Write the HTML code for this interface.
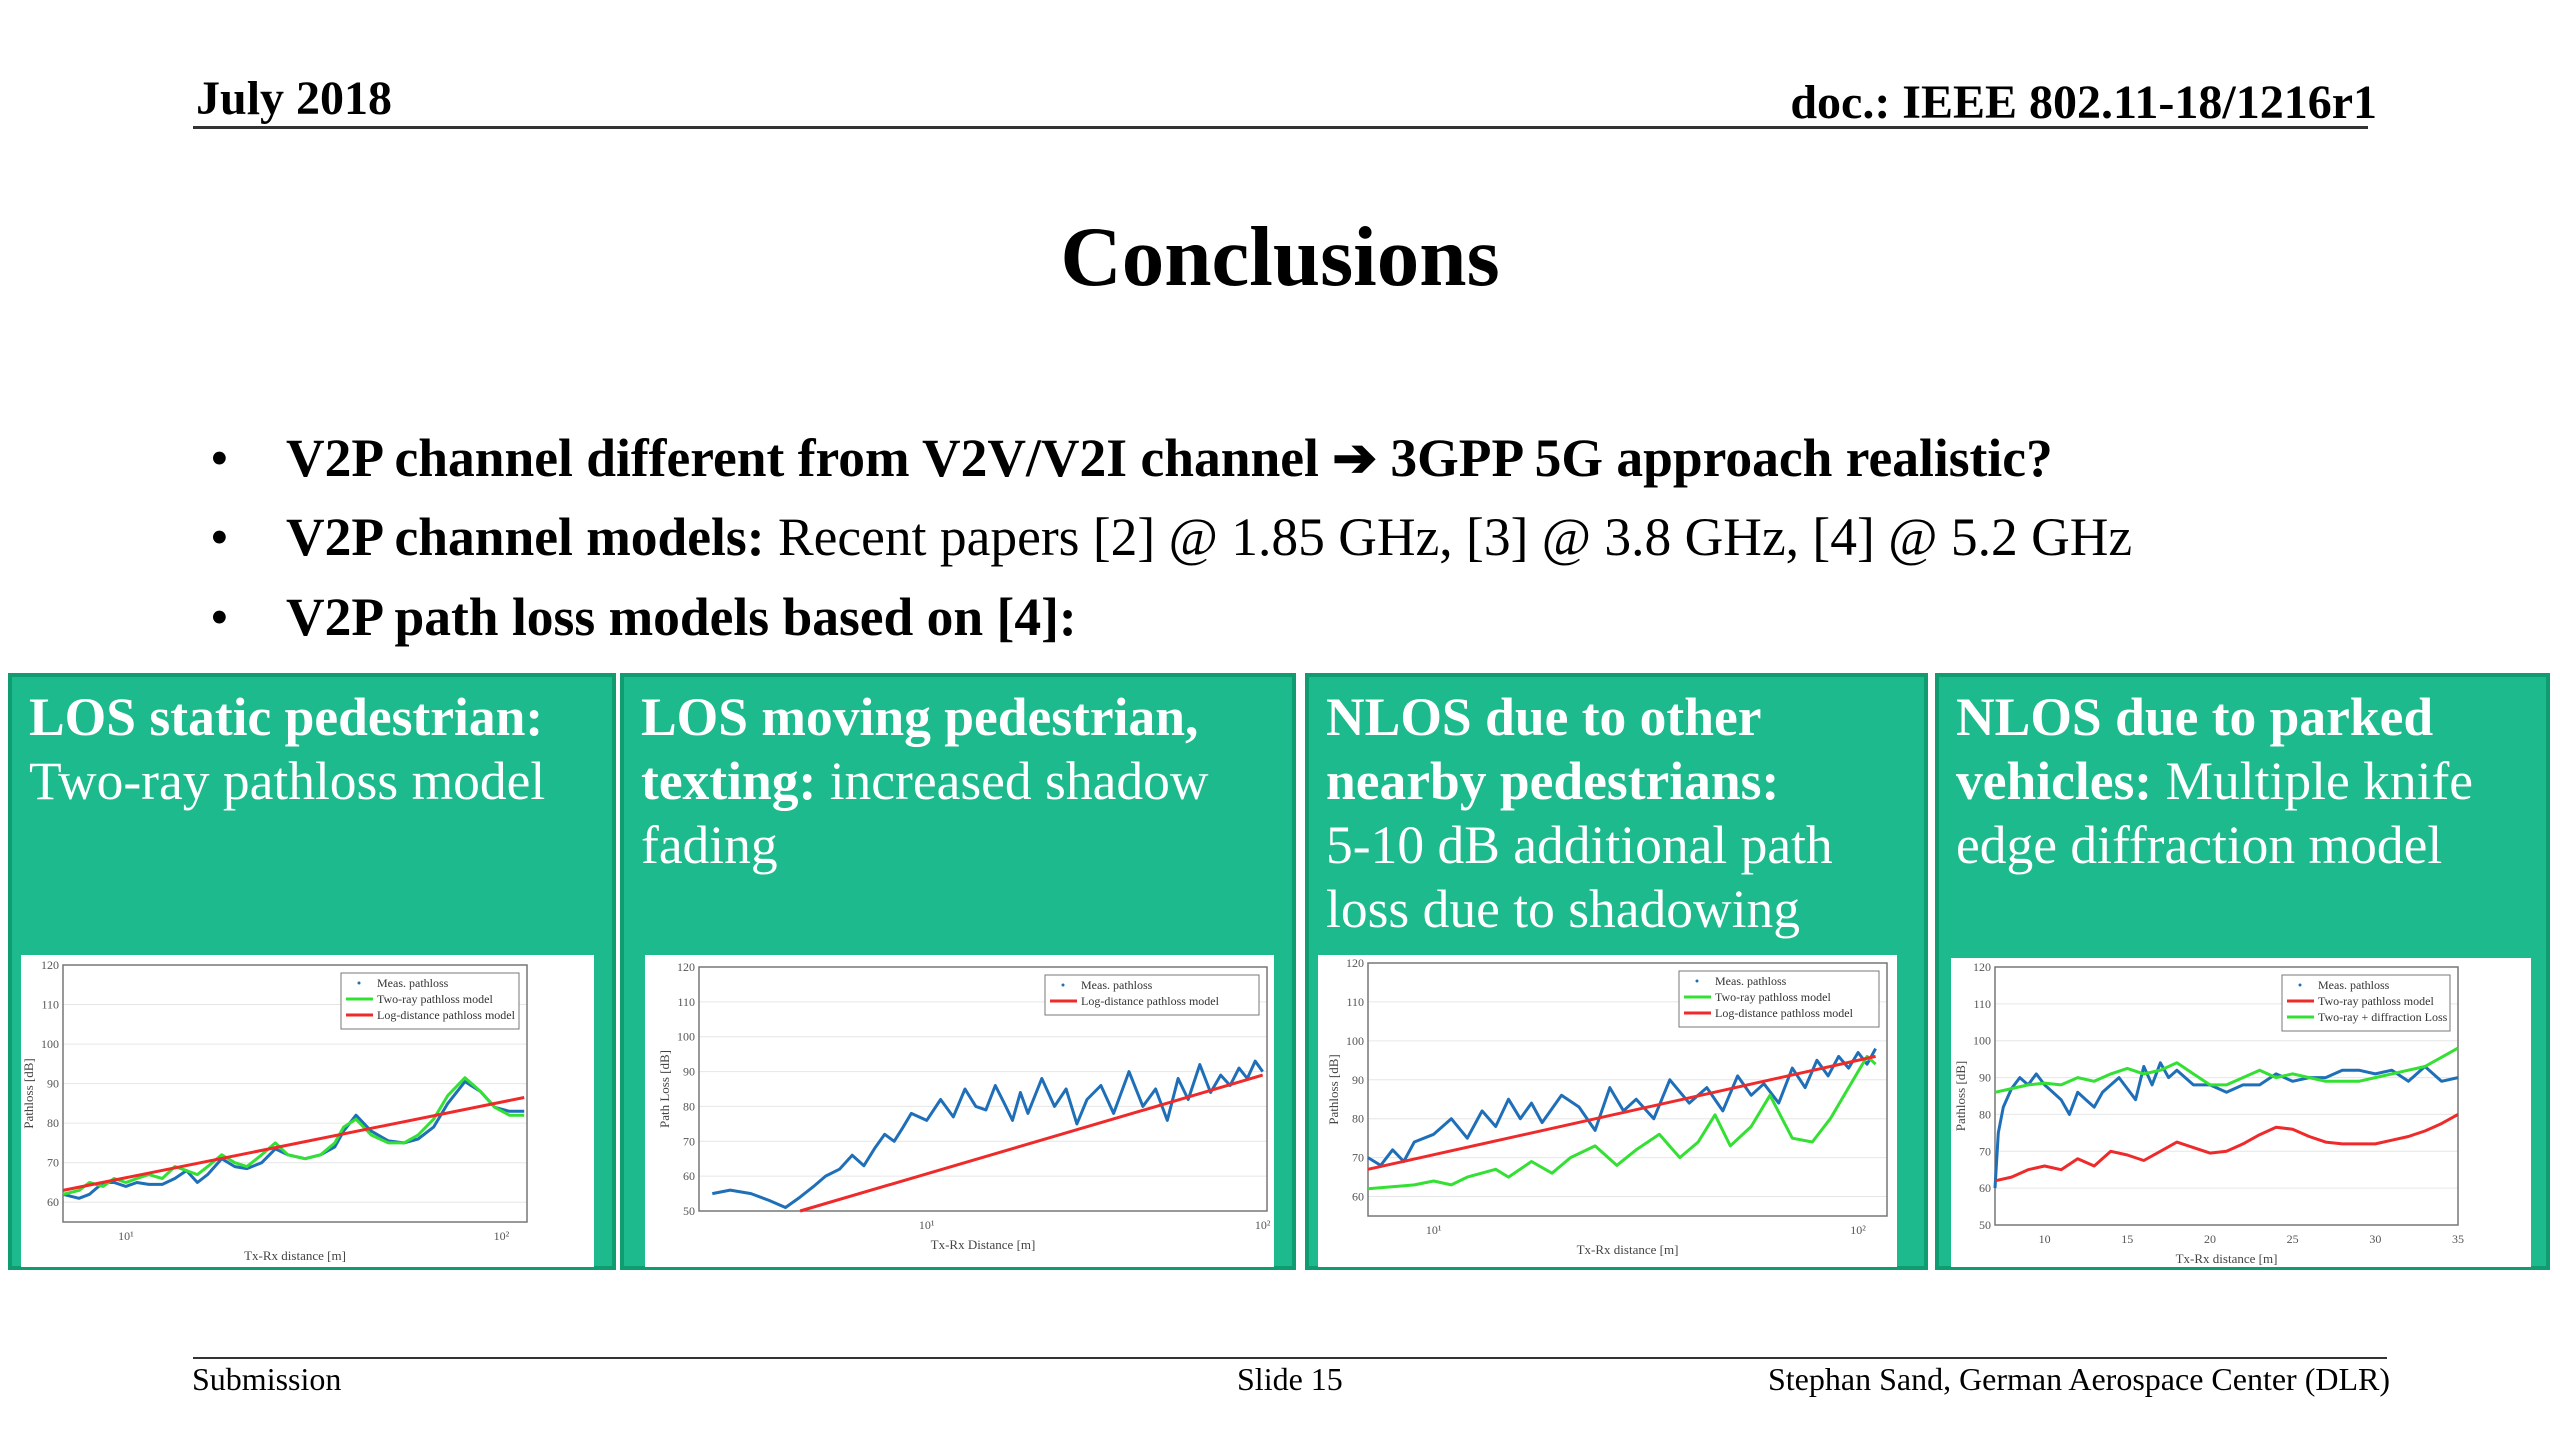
<!DOCTYPE html>
<html><head><meta charset="utf-8">
<style>
body{margin:0;width:2560px;height:1440px;position:relative;background:#fff;font-family:"Liberation Serif",serif;overflow:hidden}
.a{position:absolute;white-space:nowrap}
.box{position:absolute;top:673px;height:597px;background:#1cba8c;border:4px solid #0f9c70;box-sizing:border-box;color:#fff;font-size:53.5px;line-height:64px;padding:8px 0 0 17px;white-space:nowrap}
.wh{position:absolute;background:#fff}
</style></head><body>
<div class="a" style="left:196px;top:71px;font-size:48px;font-weight:bold">July 2018</div>
<div class="a" style="right:183px;top:75px;font-size:48px;font-weight:bold">doc.: IEEE 802.11-18/1216r1</div>
<div class="a" style="left:193px;top:126px;width:2175px;height:3px;background:#333"></div>
<div class="a" style="left:0;width:2560px;text-align:center;top:208px;font-size:85px;font-weight:bold">Conclusions</div>
<div class="a" style="left:210px;top:426px;font-size:53.5px"><span style="display:inline-block;width:76px">•</span><b>V2P channel different from V2V/V2I channel ➔ 3GPP 5G approach realistic?</b></div>
<div class="a" style="left:210px;top:506px;font-size:53.5px"><span style="display:inline-block;width:76px">•</span><b>V2P channel models:</b> Recent papers [2] @ 1.85 GHz, [3] @ 3.8 GHz, [4] @ 5.2 GHz</div>
<div class="a" style="left:210px;top:586px;font-size:53.5px"><span style="display:inline-block;width:76px">•</span><b>V2P path loss models based on [4]:</b></div>

<div class="box" style="left:8px;width:608px"><b>LOS static pedestrian:</b><br>Two-ray pathloss model</div>
<div class="box" style="left:620px;width:676px"><b>LOS moving pedestrian,</b><br><b>texting:</b> increased shadow<br>fading</div>
<div class="box" style="left:1305px;width:623px"><b>NLOS due to other</b><br><b>nearby pedestrians:</b><br>5-10 dB additional path<br>loss due to shadowing</div>
<div class="box" style="left:1935px;width:615px"><b>NLOS due to parked</b><br><b>vehicles:</b> Multiple knife<br>edge diffraction model</div>

<div class="wh" style="left:21px;top:955px;width:573px;height:312px"></div>
<div class="wh" style="left:645px;top:955px;width:629px;height:312px"></div>
<div class="wh" style="left:1318px;top:955px;width:579px;height:312px"></div>
<div class="wh" style="left:1951px;top:958px;width:580px;height:309px"></div>

<svg id="charts" width="2560" height="1440" style="position:absolute;left:0;top:0" font-family="Liberation Serif, serif"></svg>

<div class="a" style="left:193px;top:1357px;width:2194px;height:2px;background:#333"></div>
<div class="a" style="left:192px;top:1361px;font-size:32px">Submission</div>
<div class="a" style="left:1237px;top:1361px;font-size:32px">Slide 15</div>
<div class="a" style="right:170px;top:1361px;font-size:32px">Stephan Sand, German Aerospace Center (DLR)</div>

<script>
// Chart 1
const x1 = [6.8,7.5,8,8.7,9.3,10,10.7,11.5,12.5,13.5,14.5,15.5,16.5,18,19.5,21,23,25,27,30,33,36,38,41,45,50,55,60,66,72,80,88,96,105,115];
const green1 = [62,63,65,64,66,65,66,67,66,69,68,67,69,72,70,69,72,75,72,71,72,75,79,81,77,75,75,77,81,87,91.5,88,84,82,82];
const blue1 = [62,61,62,65,65,64,65,64.5,64.5,66,68,65,67,71,69,68.5,70,73.5,72,71,72,74,78,82,78,75.5,75,76,79,85,90.5,88,84,83,83];
const xr1 = [6.8,115];
const red1 = [63,86.5];
// Chart 2
const x2 = [2.3,2.6,3,3.4,3.8,4.2,4.6,5,5.5,6,6.5,7,7.5,8,8.5,9,10,11,12,13,14,15,16,17,18,19,20,22,24,26,28,30,33,36,40,44,48,52,56,60,65,70,75,80,85,90,95,100];
const blue2 = [55,56,55,53,51,54,57,60,62,66,63,68,72,70,74,78,76,82,77,85,80,79,86,81,76,84,78,88,80,85,75,82,86,78,90,80,85,76,88,82,92,84,89,86,91,88,93,90];
const xr2 = [4.2,100];
const red2 = [50,89];
// Chart 3
const x3 = [7,7.5,8,8.5,9,10,11,12,13,14,15,16,17,18,20,22,24,26,28,30,33,36,40,44,48,52,56,60,65,70,75,80,85,90,95,100,105,110];
const blue3 = [70,68,72,69,74,76,80,75,82,78,85,80,84,79,86,83,77,88,82,85,80,90,84,88,82,91,86,89,84,93,88,95,91,96,93,97,94,98];
const xr3 = [7,110];
const red3 = [67,96];
const xg3 = [7,9,10,11,12,14,15,17,19,21,24,27,30,34,38,42,46,50,56,62,70,78,86,95,105,110];
const green3 = [62,63,64,63,65,67,65,69,66,70,73,68,72,76,70,74,81,73,78,86,75,74,80,88,96,94];
// Chart 4
const x4 = [7,7.2,7.5,8,8.5,9,9.5,10,10.5,11,11.5,12,12.5,13,13.5,14,14.5,15,15.5,16,16.5,17,17.5,18,19,20,21,22,23,24,25,26,27,28,29,30,31,32,33,34,35];
const blue4 = [60,75,82,87,90,88,91,88,86,84,80,86,84,82,86,88,90,87,84,93,88,94,90,92,88,88,86,88,88,91,89,90,90,92,92,91,92,89,93,89,90];
const x4m = [7,8,9,10,11,12,13,14,15,16,17,18,19,20,21,22,23,24,25,26,27,28,29,30,31,32,33,34,35];
const red4 = [62,63,65,66,65,68,66,70,69,67.5,70,72.5,71,69.5,70,72,74.5,76.5,76,74,72.5,72,72,72,73,74,75.5,77.5,80];
const green4 = [86,87,88,88.5,88,90,89,91,92.5,91,92,94,91,88,88,90,92,90,91,90,89,89,89,90,91,92,93,95.5,98];

const yTicks1 = [60,70,80,90,100,110,120];
const yTicks2 = [50,60,70,80,90,100,110,120];
const xTicksLog = [10,100];
const xTicksLogLabels = ['10¹','10²'];
const xTicks4 = [10,15,20,25,30,35];

const svg = document.getElementById('charts');
const NS = 'http://www.w3.org/2000/svg';
function mk(tag, attrs){const e=document.createElementNS(NS,tag);for(const k in attrs)e.setAttribute(k,attrs[k]);svg.appendChild(e);return e;}

function chart(id, g, series, yT, xT, xL, xlabel, ylabel, legend){
  const sx = g.log ? v => g.l + (Math.log10(v)-Math.log10(g.x0))/(Math.log10(g.x1)-Math.log10(g.x0))*(g.r-g.l)
                   : v => g.l + (v-g.x0)/(g.x1-g.x0)*(g.r-g.l);
  const sy = v => g.b - (v-g.y0)/(g.y1-g.y0)*(g.b-g.t);
  yT.forEach(v=>{
    const ln=mk('line',{x1:g.l,x2:g.r,y1:sy(v),y2:sy(v),stroke:'#e6e6e6','stroke-width':1});
    
    
    const t=mk('text',{x:g.l-4,y:sy(v)+4,'font-size':12,'text-anchor':'end',fill:'#555'});
    t.textContent=v;
    
    
  });
  xT.forEach((v,i)=>{
    const t=mk('text',{x:sx(v),y:g.b+18,'font-size':12,'text-anchor':'middle',fill:'#555'});
    t.textContent=xL[i];
    
    
  });
  const fr=mk('rect',{x:g.l,y:g.t,width:g.r-g.l,height:g.b-g.t,fill:'none',stroke:'#777','stroke-width':1.5});
  
  
  series.forEach(s=>{
    const d=s.x.map((v,i)=>(i?'L':'M')+sx(v).toFixed(1)+','+sy(s.y[i]).toFixed(1)).join('');
    const p=mk('path',{d:d,fill:'none',stroke:s.c,'stroke-width':s.w||3,'stroke-linejoin':'round'});
    
    
  });
  const xl=mk('text',{x:(g.l+g.r)/2,y:g.b+38,'font-size':13,'text-anchor':'middle',fill:'#444'});
  xl.textContent=xlabel;
  
  
  const yl=mk('text',{x:0,y:0,'font-size':13,'text-anchor':'middle',fill:'#444',transform:`translate(${g.l-30},${(g.t+g.b)/2}) rotate(-90)`});
  yl.textContent=ylabel;
  
  
  const lw=legend.w, lh=legend.items.length*16+8, lx=g.r-lw-8, ly=g.t+8;
  const lb=mk('rect',{x:lx,y:ly,width:lw,height:lh,fill:'#fff',stroke:'#777'});
  
  
  legend.items.forEach((it,i)=>{
    const yy=ly+14+i*16;
    if(it.c!=='dot'){const l=mk('line',{x1:lx+5,x2:lx+32,y1:yy-4,y2:yy-4,stroke:it.c,'stroke-width':3});
      
      }
    else {const c=mk('circle',{cx:lx+18,cy:yy-4,r:1.5,fill:'#1f6fb8'});
      
      }
    const t=mk('text',{x:lx+36,y:yy,'font-size':12,fill:'#333'});
    t.textContent=it.t;
    
    
  });
}
const B='#1f6fb8',G='#33e033',R='#ee2a2a';
chart('chart1',{l:63,r:527,t:965,b:1222,x0:6.8,x1:117,y0:55,y1:120,log:true},
  [{x:x1,y:blue1,c:B,n:'meas-line'},{x:x1,y:green1,c:G,n:'two-ray-line'},{x:xr1,y:red1,c:R,n:'log-distance-line'}],
  yTicks1,xTicksLog,xTicksLogLabels,'Tx-Rx distance [m]','Pathloss [dB]',
  {w:178,items:[{c:'dot',t:'Meas. pathloss'},{c:G,t:'Two-ray pathloss model'},{c:R,t:'Log-distance pathloss model'}]});
chart('chart2',{l:699,r:1267,t:967,b:1211,x0:2.1,x1:103,y0:50,y1:120,log:true},
  [{x:x2,y:blue2,c:B,n:'meas-line'},{x:xr2,y:red2,c:R,n:'log-distance-line'}],
  yTicks2,xTicksLog,xTicksLogLabels,'Tx-Rx Distance [m]','Path Loss [dB]',
  {w:214,items:[{c:'dot',t:'Meas. pathloss'},{c:R,t:'Log-distance pathloss model'}]});
chart('chart3',{l:1368,r:1887,t:963,b:1216,x0:7,x1:117,y0:55,y1:120,log:true},
  [{x:x3,y:blue3,c:B,n:'meas-line'},{x:xg3,y:green3,c:G,n:'two-ray-line'},{x:xr3,y:red3,c:R,n:'log-distance-line'}],
  yTicks1,xTicksLog,xTicksLogLabels,'Tx-Rx distance [m]','Pathloss [dB]',
  {w:200,items:[{c:'dot',t:'Meas. pathloss'},{c:G,t:'Two-ray pathloss model'},{c:R,t:'Log-distance pathloss model'}]});
chart('chart4',{l:1995,r:2458,t:967,b:1225,x0:7,x1:35,y0:50,y1:120,log:false},
  [{x:x4,y:blue4,c:B,n:'meas-line'},{x:x4m,y:red4,c:R,n:'two-ray-line'},{x:x4m,y:green4,c:G,n:'diffraction-line'}],
  yTicks2,xTicks4,xTicks4.map(String),'Tx-Rx distance [m]','Pathloss [dB]',
  {w:168,items:[{c:'dot',t:'Meas. pathloss'},{c:R,t:'Two-ray pathloss model'},{c:G,t:'Two-ray + diffraction Loss'}]});
</script>
</body></html>
